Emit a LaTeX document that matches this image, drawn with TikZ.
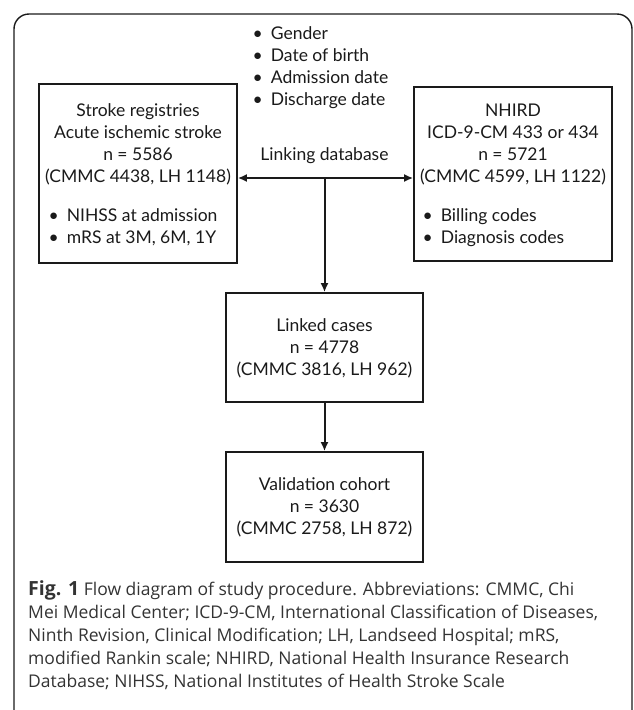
\documentclass[tikz,border=0pt]{standalone}
\usepackage{fontspec}
\setmainfont{Lato}
\newfontfamily\capfont{Open Sans}
\usetikzlibrary{arrows.meta,calc}
\definecolor{ink}{HTML}{1A1A1A}
\definecolor{capink}{HTML}{333333}
\tikzset{
  box/.style={draw=ink, line width=1.7pt, rectangle, inner sep=0pt},
  txt/.style={inner sep=0pt, text=ink, font=\fontsize{17.5}{22}\selectfont},
  captxt/.style={inner sep=0pt, text=capink, font=\capfont\fontsize{17.5}{23}\selectfont},
  arr/.style={draw=ink, line width=2pt, -{Latex[length=9pt,width=8pt]}},
  darr/.style={draw=ink, line width=2pt, {Latex[length=9pt,width=8pt]}-{Latex[length=9pt,width=8pt]}},
  frame/.style={draw=ink, line width=1.4pt, rounded corners=15pt}
}
\newcommand{\bl}{\textbullet}
\begin{document}
\begin{tikzpicture}[x=1pt,y=-1pt]
\useasboundingbox (0,0) rectangle (633,710);
\draw[frame] (14,740) -- (14,14) -- (632,14) -- (632,740);

% boxes
\node[box, minimum width=198pt, minimum height=179pt] (reg) at (138,173.5) {};
\node[box, minimum width=198pt, minimum height=174pt] (nh) at (513,174) {};
\node[box, minimum width=197pt, minimum height=109pt] (link) at (324.5,347.5) {};
\node[box, minimum width=197pt, minimum height=110pt] (val) at (324.5,507) {};

% box texts
\node[txt] (regt) at (138,145) {\begin{tabular}{@{}c@{}}Stroke registries\\Acute ischemic stroke\\n = 5586\\(CMMC 4438, LH 1148)\end{tabular}};
\node[txt, anchor=west] (regb) at (48.5,228.5) {\begin{tabular}{@{}l@{\hspace{8pt}}l@{}}\bl & NIHSS at admission\\ \bl & mRS at 3M, 6M, 1Y\end{tabular}};

\node[txt] (nht) at (513,145) {\begin{tabular}{@{}c@{}}NHIRD\\ICD-9-CM 433 or 434\\n = 5721\\(CMMC 4599, LH 1122)\end{tabular}};
\node[txt, anchor=west] (nhb) at (422.5,228.5) {\begin{tabular}{@{}l@{\hspace{8pt}}l@{}}\bl & Billing codes\\ \bl & Diagnosis codes\end{tabular}};

\node[txt] (linkt) at (324.5,349) {\begin{tabular}{@{}c@{}}Linked cases\\n = 4778\\(CMMC 3816, LH 962)\end{tabular}};
\node[txt] (valt) at (324.5,508) {\begin{tabular}{@{}c@{}}Validation cohort\\n = 3630\\(CMMC 2758, LH 872)\end{tabular}};

% top bullets
\node[txt, anchor=west] (vars) at (252.5,68) {\begin{tabular}{@{}l@{\hspace{8pt}}l@{}}\bl & Gender\\ \bl & Date of birth\\ \bl & Admission date\\ \bl & Discharge date\end{tabular}};

\node[txt] (lkd) at (324.5,156) {Linking database};

% connectors
\coordinate (j) at (324.5,178);
\draw[darr] (reg.east |- j) -- (nh.west |- j);
\draw[arr] (j) -- (link.north);
\draw[arr] (link.south) -- (val.north);

% caption
\node[captxt, anchor=west] (cap) at (28,637) {\begin{tabular}{@{}l@{}}{\fontsize{19.5}{23}\selectfont\textbf{Fig. 1}} Flow diagram of study procedure. Abbreviations: CMMC, Chi\\Mei Medical Center; ICD-9-CM, International Classification of Diseases,\\Ninth Revision, Clinical Modification; LH, Landseed Hospital; mRS,\\modified Rankin scale; NHIRD, National Health Insurance Research\\Database; NIHSS, National Institutes of Health Stroke Scale\end{tabular}};
\end{tikzpicture}
\end{document}
